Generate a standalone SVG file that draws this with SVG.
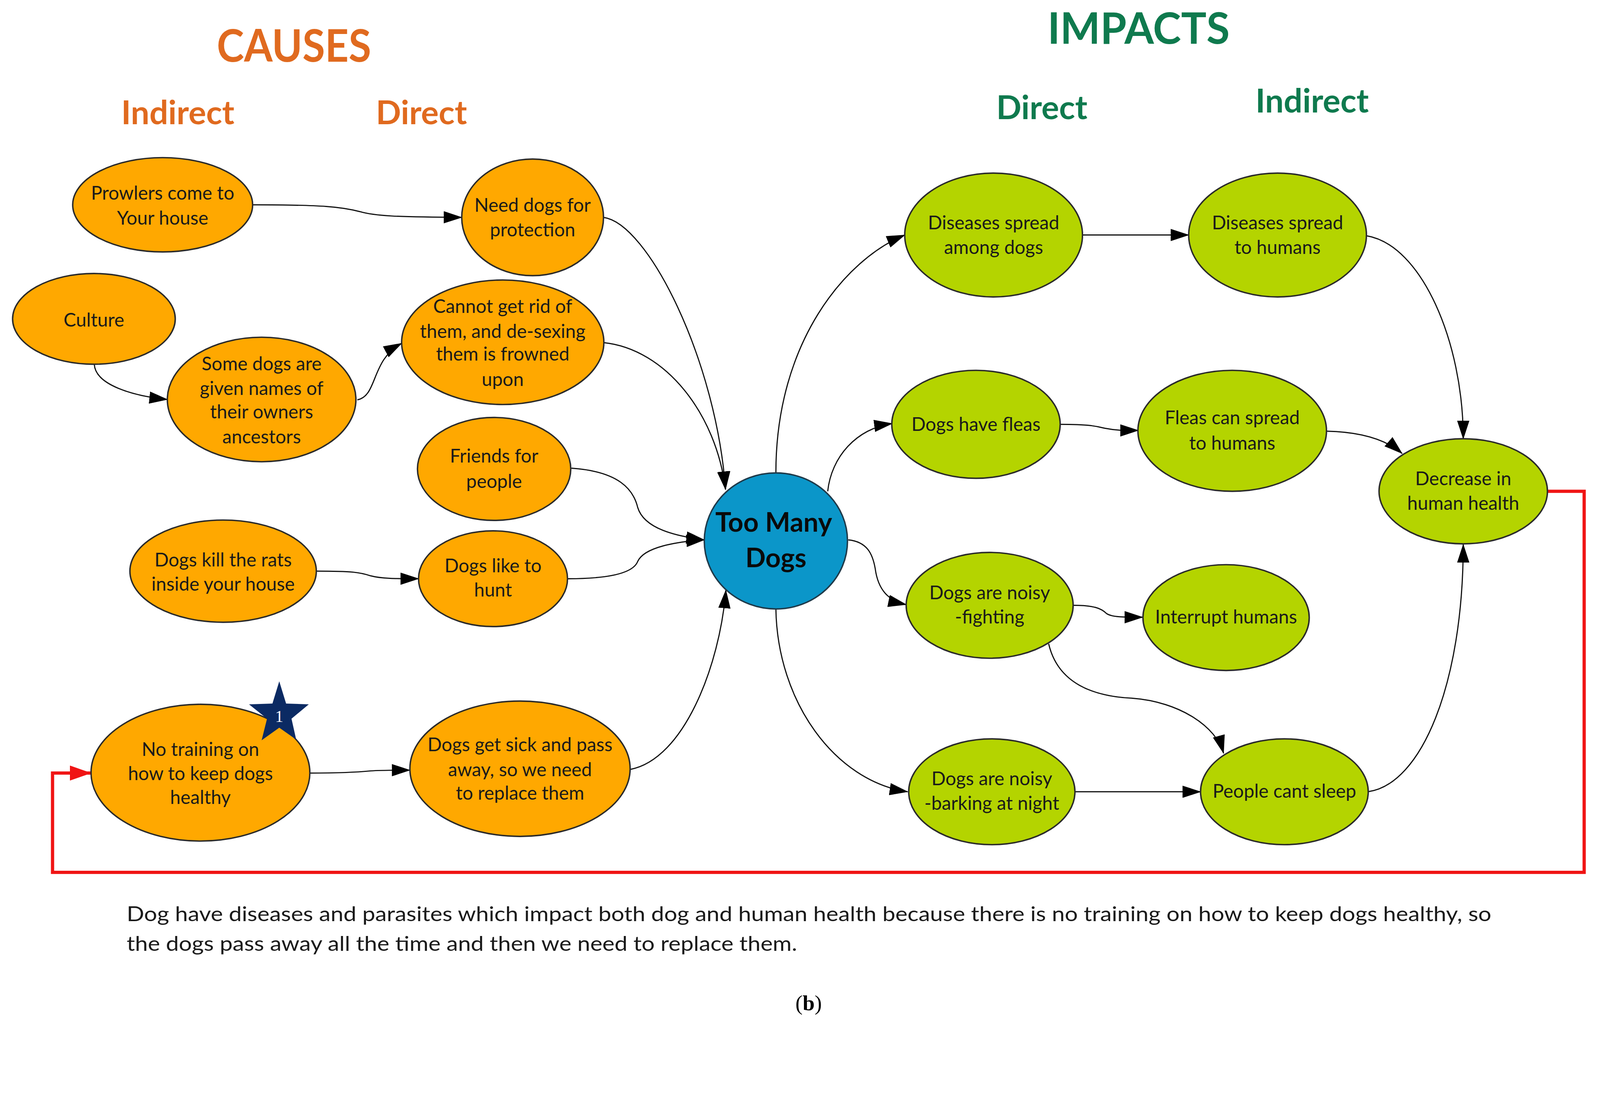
<svg xmlns="http://www.w3.org/2000/svg" width="4446" height="2844" viewBox="0 0 4446 2844" preserveAspectRatio="xMinYMin meet">
<defs>
<style>
:root{width:100vw;height:100vh}
.cause{fill:#FFA800;stroke:#2a2a2a;stroke-width:4}
.impact{fill:#B4D400;stroke:#2a2a2a;stroke-width:4}
.core{fill:#0B96C9;stroke:#1f3a4a;stroke-width:4}
.lbl{font-family:Lato,"Open Sans","Liberation Sans",sans-serif;font-size:52px;fill:#1a1a1a;text-anchor:middle}
.core-lbl{font-family:Lato,"Open Sans","Liberation Sans",sans-serif;font-size:74px;font-weight:bold;fill:#0a0a0a;text-anchor:middle}
.hc{font-family:Lato,"Open Sans","Liberation Sans",sans-serif;font-weight:bold;fill:#E06A1F;text-anchor:middle}
.hi{font-family:Lato,"Open Sans","Liberation Sans",sans-serif;font-weight:bold;fill:#0F7A4E;text-anchor:middle}
.edge{fill:none;stroke:#111;stroke-width:3.2;marker-end:url(#arr)}
.loop{fill:none;stroke:#F01414;stroke-width:9;marker-end:url(#rarr)}
.cap{font-family:Lato,"Open Sans","Liberation Sans",sans-serif;font-size:57px;fill:#1a1a1a}
</style>
<marker id="arr" markerUnits="userSpaceOnUse" markerWidth="52" markerHeight="34" refX="50" refY="17" orient="auto">
<path d="M0,0 L52,17 L0,34 z" fill="#000"/>
</marker>
<marker id="rarr" markerUnits="userSpaceOnUse" markerWidth="60" markerHeight="42" refX="58" refY="21" orient="auto">
<path d="M0,0 L60,21 L0,42 z" fill="#F01414"/>
</marker>
</defs>
<rect width="4446" height="2844" fill="#ffffff"/>

<g id="headings">
<text class="hc" x="817" y="171" font-size="124" textLength="429" lengthAdjust="spacingAndGlyphs">CAUSES</text>
<text class="hc" x="494" y="345" font-size="92">Indirect</text>
<text class="hc" x="1171" y="345" font-size="92">Direct</text>
<text class="hi" x="3164" y="122" font-size="120" textLength="506" lengthAdjust="spacingAndGlyphs">IMPACTS</text>
<text class="hi" x="2895" y="331" font-size="92">Direct</text>
<text class="hi" x="3646" y="313" font-size="92">Indirect</text>
</g>

<g id="connectors">
<path class="edge" d="M702,569 C900,569 950,575 1000,588 C1040,600 1100,603 1283,604"/>
<path class="edge" d="M1677,604 C1800,620 1990,1000 2016,1360"/>
<path class="edge" d="M1677,952 C1850,970 1990,1150 2016,1360"/>
<path class="edge" d="M262,1012 C265,1070 370,1100 465,1110"/>
<path class="edge" d="M993,1111 C1050,1100 1030,1000 1116,954"/>
<path class="edge" d="M1588,1301 C1720,1310 1760,1360 1772,1410 C1790,1470 1880,1490 1957,1500"/>
<path class="edge" d="M1578,1608 C1700,1608 1760,1590 1772,1560 C1790,1520 1880,1505 1957,1500"/>
<path class="edge" d="M879,1587 C980,1587 1000,1590 1030,1600 C1060,1608 1100,1608 1163,1608"/>
<path class="edge" d="M861,2148 C950,2148 1000,2145 1030,2142 C1060,2140 1100,2140 1139,2140"/>
<path class="edge" d="M1751,2138 C1900,2110 2000,1850 2017,1640"/>
<path class="edge" d="M2156,1313 C2156,950 2350,720 2514,653"/>
<path class="edge" d="M2300,1365 C2310,1270 2380,1190 2479,1177"/>
<path class="edge" d="M2357,1500 C2410,1505 2425,1540 2432,1580 C2440,1640 2470,1670 2518,1680"/>
<path class="edge" d="M2156,1692 C2160,1950 2320,2170 2522,2200"/>
<path class="edge" d="M3007,653 L3303,653"/>
<path class="edge" d="M3797,655 C3950,680 4066,950 4066,1219"/>
<path class="edge" d="M2946,1179 C3030,1179 3050,1185 3070,1190 C3100,1196 3120,1196 3163,1196"/>
<path class="edge" d="M3686,1198 C3780,1200 3850,1220 3896,1260"/>
<path class="edge" d="M2982,1682 C3040,1682 3060,1690 3075,1705 C3090,1715 3120,1715 3175,1715"/>
<path class="edge" d="M2914,1789 C2940,1900 3040,1935 3145,1940 C3280,1950 3380,2020 3400,2093"/>
<path class="edge" d="M2986,2200 L3336,2200"/>
<path class="edge" d="M3801,2200 C3950,2180 4066,1900 4066,1513"/>
<path class="loop" d="M4300,1365 L4402,1365 L4402,2424 L146,2424 L146,2148 L252,2148"/>
</g>

<g id="n-prowlers"><ellipse class="cause" cx="452" cy="569" rx="250" ry="131"/>
<text class="lbl" x="452" y="555">Prowlers come to</text><text class="lbl" x="452" y="624">Your house</text></g>
<g id="n-protection"><ellipse class="cause" cx="1480" cy="604" rx="197" ry="162"/>
<text class="lbl" x="1480" y="588">Need dogs for</text><text class="lbl" x="1480" y="657">protection</text></g>
<g id="n-culture"><ellipse class="cause" cx="261" cy="886" rx="226" ry="126"/>
<text class="lbl" x="261" y="907">Culture</text></g>
<g id="n-names"><ellipse class="cause" cx="727" cy="1110" rx="262" ry="173"/>
<text class="lbl" x="727" y="1029">Some dogs are</text><text class="lbl" x="727" y="1097">given names of</text><text class="lbl" x="727" y="1163">their owners</text><text class="lbl" x="727" y="1232">ancestors</text></g>
<g id="n-cannot"><ellipse class="cause" cx="1397" cy="951" rx="281" ry="173"/>
<text class="lbl" x="1397" y="869">Cannot get rid of</text><text class="lbl" x="1397" y="939">them, and de-sexing</text><text class="lbl" x="1397" y="1002">them is frowned</text><text class="lbl" x="1397" y="1072">upon</text></g>
<g id="n-friends"><ellipse class="cause" cx="1373" cy="1303" rx="213" ry="143"/>
<text class="lbl" x="1373" y="1285">Friends for</text><text class="lbl" x="1373" y="1356">people</text></g>
<g id="n-rats"><ellipse class="cause" cx="620" cy="1587" rx="259" ry="142"/>
<text class="lbl" x="620" y="1574">Dogs kill the rats</text><text class="lbl" x="620" y="1641">inside your house</text></g>
<g id="n-hunt"><ellipse class="cause" cx="1370" cy="1608" rx="207" ry="133"/>
<text class="lbl" x="1370" y="1590">Dogs like to</text><text class="lbl" x="1370" y="1658">hunt</text></g>
<g id="n-training"><ellipse class="cause" cx="557" cy="2147" rx="304" ry="190"/>
<text class="lbl" x="557" y="2100">No training on</text><text class="lbl" x="557" y="2168">how to keep dogs</text><text class="lbl" x="557" y="2234">healthy</text></g>
<g id="star-1"><polygon points="776,1893 795,1955 858,1957 810,1997 823,2055 776,2022 727,2057 742,1997 692,1957 757,1955" fill="#0B2A63"/>
<text x="776" y="2006" font-family="'Liberation Serif',serif" font-size="46" fill="#ffffff" text-anchor="middle">1</text></g>
<g id="n-sick"><ellipse class="cause" cx="1445" cy="2136" rx="306" ry="188"/>
<text class="lbl" x="1445" y="2087">Dogs get sick and pass</text><text class="lbl" x="1445" y="2157">away, so we need</text><text class="lbl" x="1445" y="2222">to replace them</text></g>

<g id="n-toomany"><ellipse class="core" cx="2156" cy="1503" rx="199" ry="189"/>
<text class="core-lbl" x="2150" y="1477">Too Many</text><text class="core-lbl" x="2156" y="1576">Dogs</text></g>

<g id="n-dis-dogs"><ellipse class="impact" cx="2761" cy="653" rx="247" ry="172"/>
<text class="lbl" x="2761" y="637">Diseases spread</text><text class="lbl" x="2761" y="706">among dogs</text></g>
<g id="n-dis-humans"><ellipse class="impact" cx="3550" cy="653" rx="247" ry="172"/>
<text class="lbl" x="3550" y="637">Diseases spread</text><text class="lbl" x="3550" y="706">to humans</text></g>
<g id="n-fleas"><ellipse class="impact" cx="2712" cy="1179" rx="234" ry="150"/>
<text class="lbl" x="2712" y="1197">Dogs have fleas</text></g>
<g id="n-fleas-humans"><ellipse class="impact" cx="3424" cy="1197" rx="262" ry="168"/>
<text class="lbl" x="3424" y="1179">Fleas can spread</text><text class="lbl" x="3424" y="1249">to humans</text></g>
<g id="n-health"><ellipse class="impact" cx="4066" cy="1365" rx="234" ry="146"/>
<text class="lbl" x="4066" y="1348">Decrease in</text><text class="lbl" x="4066" y="1416">human health</text></g>
<g id="n-fighting"><ellipse class="impact" cx="2750" cy="1682" rx="232" ry="147"/>
<text class="lbl" x="2750" y="1665">Dogs are noisy</text><text class="lbl" x="2750" y="1732">-fighting</text></g>
<g id="n-interrupt"><ellipse class="impact" cx="3407" cy="1716" rx="231" ry="147"/>
<text class="lbl" x="3407" y="1732">Interrupt humans</text></g>
<g id="n-barking"><ellipse class="impact" cx="2756" cy="2200" rx="231" ry="147"/>
<text class="lbl" x="2756" y="2182">Dogs are noisy</text><text class="lbl" x="2756" y="2250">-barking at night</text></g>
<g id="n-sleep"><ellipse class="impact" cx="3569" cy="2200" rx="233" ry="147"/>
<text class="lbl" x="3569" y="2217">People cant sleep</text></g>

<g id="caption">
<text class="cap" x="352" y="2560" textLength="3792" lengthAdjust="spacingAndGlyphs">Dog have diseases and parasites which impact both dog and human health because there is no training on how to keep dogs healthy, so</text>
<text class="cap" x="352" y="2642" textLength="1863" lengthAdjust="spacingAndGlyphs">the dogs pass away all the time and then we need to replace them.</text>
<text x="2247" y="2807" font-family="'Liberation Serif',serif" font-size="60" fill="#000" text-anchor="middle">(<tspan font-weight="bold">b</tspan>)</text>
</g>
</svg>
